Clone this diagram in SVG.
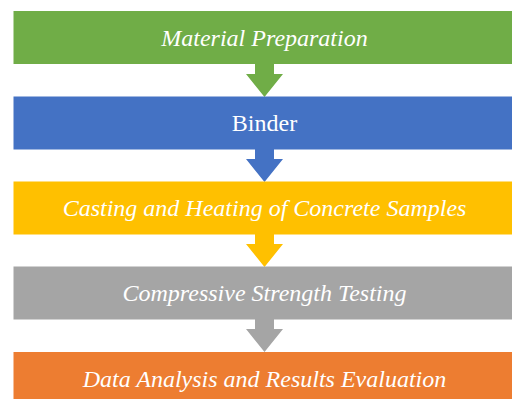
<svg xmlns="http://www.w3.org/2000/svg" width="512" height="399" viewBox="0 0 512 399">
<style>
.lbl{font-family:"Liberation Serif","Times New Roman",serif;font-size:24px;fill:#ffffff;text-anchor:middle}
.it{font-style:italic}
</style>
<rect width="512" height="399" fill="#ffffff"/>
<g id="connectors">
<path d="M255,63.5 L274,63.5 L274,74 L283,74 L264.5,97 L246,74 L255,74 Z" fill="#70AD47"/>
<path d="M255,148.5 L274,148.5 L274,159 L283,159 L264.5,182 L246,159 L255,159 Z" fill="#4472C4"/>
<path d="M255,233.5 L274,233.5 L274,244 L283,244 L264.5,267 L246,244 L255,244 Z" fill="#FFC000"/>
<path d="M255,318.5 L274,318.5 L274,329 L283,329 L264.5,352 L246,329 L255,329 Z" fill="#A5A5A5"/>
</g>
<g id="n1">
<rect x="13.5" y="11" width="502" height="53" fill="#70AD47"/>
<text class="lbl it" x="264.5" y="45.5">Material Preparation</text>
</g>
<g id="n2">
<rect x="13.5" y="96.5" width="502" height="53" fill="#4472C4"/>
<text class="lbl" x="264.5" y="130.5">Binder</text>
</g>
<g id="n3">
<rect x="13.5" y="181.5" width="502" height="53" fill="#FFC000"/>
<text class="lbl it" x="264.5" y="215.5">Casting and Heating of Concrete Samples</text>
</g>
<g id="n4">
<rect x="13.5" y="266.5" width="502" height="53" fill="#A5A5A5"/>
<text class="lbl it" x="264.5" y="300.5">Compressive Strength Testing</text>
</g>
<g id="n5">
<rect x="13.5" y="352" width="502" height="53" fill="#ED7D31"/>
<text class="lbl it" x="264.5" y="386.5">Data Analysis and Results Evaluation</text>
</g>
</svg>
